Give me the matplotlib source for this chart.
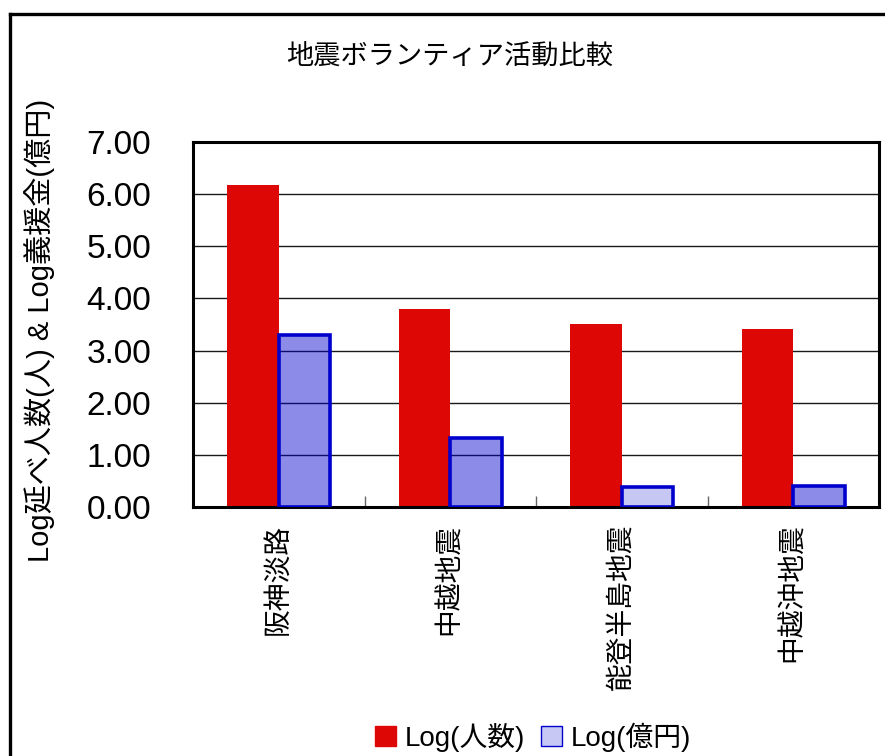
import matplotlib
matplotlib.use("Agg")
import matplotlib.pyplot as plt
from matplotlib.patches import Patch
from matplotlib.lines import Line2D
import numpy as np

plt.rcParams['font.family'] = ['Liberation Sans', 'Noto Sans CJK JP', 'DejaVu Sans']

# 地震ごとの対数値
quakes = ["阪神淡路", "中越地震", "能登半島地震", "中越沖地震"]
log_people = [6.18, 3.80, 3.51, 3.42]
log_oku_yen = [3.30, 1.32, 0.38, 0.40]
fill_alpha = [0.45, 0.45, 0.22, 0.45]
yticks = [0, 1, 2, 3, 4, 5, 6, 7]

red = "#dd0806"
blue = "#0000cc"

fig = plt.figure(figsize=(8.85, 7.56), dpi=100)
ax = fig.add_axes([193 / 885, 1 - 507 / 756, 686 / 885, 365 / 756])

x = np.arange(len(quakes))
w = 0.3
ax.bar(x - w / 2, log_people, w, color=red, zorder=2)
for xi, v, a in zip(x, log_oku_yen, fill_alpha):
    ax.bar(xi + w / 2, v, w, facecolor=(0, 0, 0.8, a), edgecolor=blue,
           linewidth=2.6, zorder=3)

ax.set_xlim(-0.5, 3.5)
ax.set_ylim(0, 7)
ax.set_yticks(yticks)
ax.set_yticklabels([f"{t:.2f}" for t in yticks], fontsize=24)
ax.tick_params(axis="y", length=0, pad=30)
ax.set_xticks(x)
ax.set_xticklabels(quakes, rotation=90, fontsize=20, va="top", ha="center")
ax.tick_params(axis="x", length=0, pad=12)
ax.set_xticks([0.5, 1.5, 2.5], minor=True)
ax.tick_params(axis="x", which="minor", direction="in", length=8, color="#666666", width=1)

ax.grid(axis="y", color="#1a1a1a", linewidth=1.0, zorder=1)
ax.set_axisbelow(True)
for s in ax.spines.values():
    s.set_linewidth(2.2)
    s.set_color("black")

fig.text(450 / 885, 1 - 58 / 756, "地震ボランティア活動比較", fontsize=19.6,
         ha="center", va="center")
fig.text(40 / 885, 1 - 330 / 756, "Log延べ人数(人) & Log義援金(億円)", fontsize=21,
         rotation=90, ha="center", va="center")

handles = [Patch(facecolor=red, edgecolor=red),
           Patch(facecolor="#c8c8f4", edgecolor=blue, linewidth=1)]
fig.legend(handles, ["Log(人数)", "Log(億円)"], loc="center",
           bbox_to_anchor=(533 / 885, 1 - 737 / 756), ncol=2, frameon=False,
           fontsize=20, handlelength=0.75, handleheight=0.75, handletextpad=0.3,
           columnspacing=0.6)

# 外枠（左と上のみ見える）
fig.add_artist(Line2D([10 / 885, 10 / 885], [0, 1 - 14 / 756], color="black", linewidth=2.4))
fig.add_artist(Line2D([10 / 885, 1], [1 - 14 / 756, 1 - 14 / 756], color="black", linewidth=2.4))

fig.savefig("out.png", dpi=100)
